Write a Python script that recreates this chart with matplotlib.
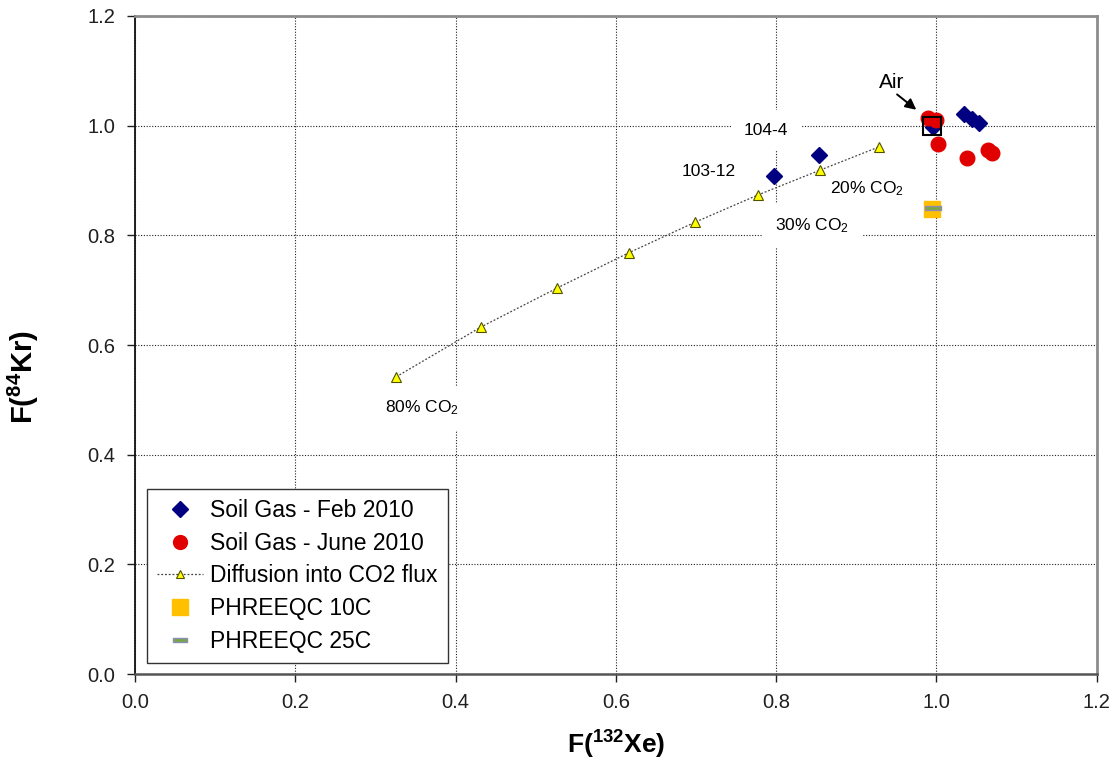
import matplotlib
matplotlib.use("Agg")
import matplotlib.pyplot as plt
from matplotlib.path import Path

plt.rcParams['font.family'] = ['Liberation Sans', 'DejaVu Sans']
plt.rcParams['mathtext.fontset'] = 'custom'
plt.rcParams['mathtext.rm'] = 'Liberation Sans'
plt.rcParams['mathtext.it'] = 'Liberation Sans:italic'
plt.rcParams['mathtext.bf'] = 'Liberation Sans:bold'

# Fractionation factors F(132Xe), F(84Kr)
feb_x = [0.798, 0.854, 0.996, 1.034, 1.044, 1.053]
feb_y = [0.908, 0.947, 0.998, 1.021, 1.012, 1.005]

june_x = [0.989, 0.999, 1.002, 1.038, 1.065, 1.070]
june_y = [1.014, 1.010, 0.967, 0.941, 0.956, 0.950]

diff_x = [0.326, 0.432, 0.527, 0.616, 0.699, 0.778, 0.855, 0.928]
diff_y = [0.542, 0.633, 0.704, 0.768, 0.824, 0.874, 0.919, 0.961]

phreeqc10_x = [0.994]
phreeqc10_y = [0.848]
phreeqc25_x = [0.996]
phreeqc25_y = [0.850]

air_x = [0.995]
air_y = [1.000]

ticks = [0.0, 0.2, 0.4, 0.6, 0.8, 1.0, 1.2]
tick_labels = ["0.0", "0.2", "0.4", "0.6", "0.8", "1.0", "1.2"]

fig = plt.figure(figsize=(11.19, 7.72), dpi=100)
ax = fig.add_axes([0.1206, 0.1269, 0.8594, 0.8524])

ax.set_xlim(0, 1.2)
ax.set_ylim(0, 1.2)
ax.set_xticks(ticks)
ax.set_yticks(ticks)
ax.set_xticklabels(tick_labels, fontsize=14.5)
ax.set_yticklabels(tick_labels, fontsize=14.5)
ax.tick_params(direction='out', length=6, width=1, colors='#202020', pad=8)

ax.grid(True, color='#222222', linestyle=(0, (1.0, 1.5)), linewidth=0.8)
ax.set_axisbelow(True)

ax.spines['left'].set_color('#111111')
ax.spines['left'].set_linewidth(1.3)
ax.spines['bottom'].set_color('#555555')
ax.spines['bottom'].set_linewidth(1.8)
ax.spines['top'].set_color('#8c8c8c')
ax.spines['top'].set_linewidth(2.0)
ax.spines['right'].set_color('#8c8c8c')
ax.spines['right'].set_linewidth(2.0)

# Diffusion model curve
ax.plot(diff_x, diff_y, linestyle=(0, (1.5, 1.5)), color='#444444', linewidth=0.9,
        marker='^', markersize=6.5, markerfacecolor='#ffff00',
        markeredgecolor='#505000', markeredgewidth=0.8,
        label='Diffusion into CO2 flux', zorder=3)

ax.plot(feb_x, feb_y, linestyle='none', marker='D', markersize=8.5,
        markerfacecolor='#000080', markeredgecolor='#000080',
        label='Soil Gas - Feb 2010', zorder=4)

ax.plot(june_x, june_y, linestyle='none', marker='o', markersize=10.5,
        markerfacecolor='#e00000', markeredgecolor='#e00000',
        label='Soil Gas - June 2010', zorder=5)

ax.plot(phreeqc10_x, phreeqc10_y, linestyle='none', marker='s', markersize=11.5,
        markerfacecolor='#ffc000', markeredgecolor='#ffc000',
        label='PHREEQC 10C', zorder=4)

dash_marker = Path([(-1, -0.22), (1, -0.22), (1, 0.22), (-1, 0.22), (-1, -0.22)],
                   [Path.MOVETO, Path.LINETO, Path.LINETO, Path.LINETO, Path.CLOSEPOLY])
ax.plot(phreeqc25_x, phreeqc25_y, linestyle='none', marker=dash_marker, markersize=11,
        markerfacecolor='#77a745', markeredgecolor='#8c8cb4', markeredgewidth=1.0,
        label='PHREEQC 25C', zorder=5)

# Atmospheric reference point
ax.plot(air_x, air_y, linestyle='none', marker='s', markersize=13,
        markerfacecolor='none', markeredgecolor='black', markeredgewidth=1.5, zorder=6)
ax.text(0.9445, 1.078, 'Air', fontsize=15, ha='center', va='center')
ax.annotate('', xy=(0.975, 1.029), xytext=(0.951, 1.057),
            arrowprops=dict(arrowstyle='-|>', color='black', lw=1.4,
                            mutation_scale=16, shrinkA=0, shrinkB=0))

box = dict(boxstyle='square,pad=0.75', facecolor='white', edgecolor='none')
label_kw = dict(fontsize=12.5, ha='center', va='center', bbox=box, zorder=2.5)
ax.text(0.7875, 0.992, '104-4', **label_kw)
ax.text(0.7165, 0.917, '103-12', **label_kw)
ax.text(0.913, 0.885, r'20% CO$_2$', **label_kw)
ax.text(0.845, 0.817, r'30% CO$_2$', **label_kw)
ax.text(0.358, 0.485, r'80% CO$_2$', **label_kw)

ax.set_xlabel(r'$\mathbf{F(^{132}Xe)}$', fontsize=19, labelpad=12)
ax.set_ylabel(r'$\mathbf{F(^{84}Kr)}$', fontsize=21)
ax.yaxis.set_label_coords(-0.098, 0.451)

handles, labels = ax.get_legend_handles_labels()
order = ['Soil Gas - Feb 2010', 'Soil Gas - June 2010', 'Diffusion into CO2 flux',
         'PHREEQC 10C', 'PHREEQC 25C']
hmap = dict(zip(labels, handles))
leg = ax.legend([hmap[k] for k in order], order, loc='lower left',
                bbox_to_anchor=(0.0125, 0.0167), fontsize=16.5, frameon=True,
                fancybox=False, edgecolor='#333333', framealpha=1,
                handlelength=2.0, handletextpad=0.3, labelspacing=0.42,
                borderpad=0.45, borderaxespad=0, markerscale=0.95)
leg.get_frame().set_linewidth(1.0)

fig.savefig('out.png', dpi=100)
